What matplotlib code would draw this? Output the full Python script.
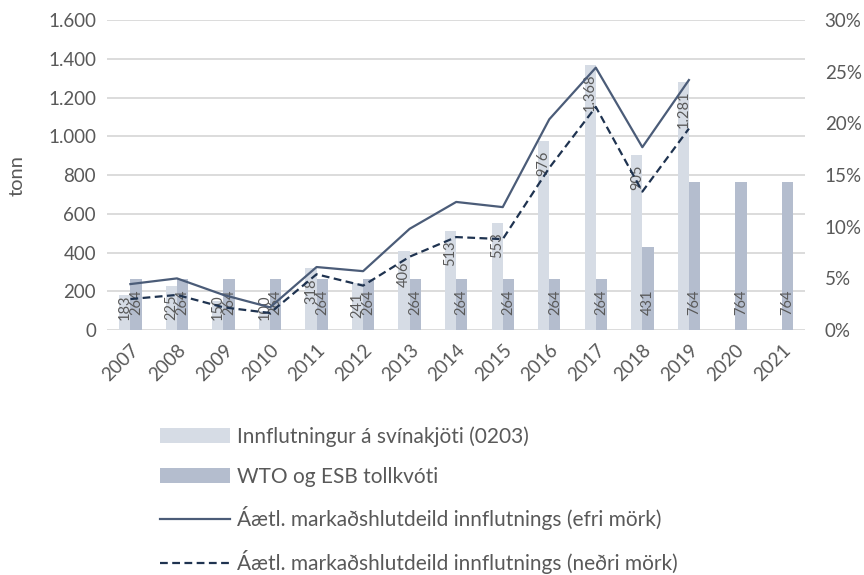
import numpy as np
import matplotlib
matplotlib.use("Agg")
import matplotlib.pyplot as plt
from matplotlib.ticker import FuncFormatter

plt.rcParams['font.family'] = ['Lato', 'DejaVu Sans']

# data
years = ['2007', '2008', '2009', '2010', '2011', '2012', '2013', '2014',
         '2015', '2016', '2017', '2018', '2019', '2020', '2021']
innflutningur = [183, 225, 150, 100, 318, 241, 406, 513, 553, 976, 1368, 905, 1281, np.nan, np.nan]
tollkvoti = [264, 264, 264, 264, 264, 264, 264, 264, 264, 264, 264, 431, 764, 764, 764]
efri = [4.45, 5.0, 3.4, 2.2, 6.1, 5.7, 9.8, 12.4, 11.9, 20.4, 25.4, 17.7, 24.2, np.nan, np.nan]
nedri = [3.0, 3.4, 2.2, 1.65, 5.4, 4.3, 7.1, 9.0, 8.8, 15.7, 21.6, 13.4, 19.5, np.nan, np.nan]

c_imp = '#D6DCE5'
c_kvo = '#B4BDCE'
c_efri = '#4B5C78'
c_nedri = '#1F3350'
txt = '#595959'

fig = plt.figure(figsize=(8.64, 5.75), dpi=100)
ax = fig.add_axes([0.124, 0.426, 0.808, 0.539])
ax2 = ax.twinx()

x = np.arange(len(years))
w = 0.24
ax.bar(x - w/2, innflutningur, w, color=c_imp, label='Innflutningur á svínakjöti (0203)', zorder=2)
ax.bar(x + w/2, tollkvoti, w, color=c_kvo, label='WTO og ESB tollkvóti', zorder=2)

ax.set_ylim(0, 1600)
ax.set_xlim(-0.5, len(years) - 0.5)
ax.set_yticks(range(0, 1601, 200))
ax.yaxis.set_major_formatter(FuncFormatter(lambda v, p: f'{int(v):,}'.replace(',', '.')))
ax.grid(axis='y', color='#D9D9D9', lw=1.3, zorder=0)
ax.set_axisbelow(True)
for s in ax.spines.values():
    s.set_visible(False)
for s in ax2.spines.values():
    s.set_visible(False)
ax.tick_params(axis='both', length=0, labelsize=13.5, colors=txt, pad=8)
ax.set_xticks(x)
ax.set_xticklabels(years, rotation=45, ha='right', rotation_mode='anchor')
ax.set_ylabel('tonn', fontsize=14.5, color=txt, labelpad=16)

# data labels
def fmt(v):
    return f'{int(v):,}'.replace(',', '.')

for xi, v in zip(x, innflutningur):
    if np.isnan(v):
        continue
    s = fmt(v)
    ln = 27 * len(s)
    top = v - 75
    ctr = max(top - ln / 2, 77 + ln / 2)
    ax.text(xi - w/2, ctr, s, rotation=90, ha='center', va='center',
            fontsize=10.5, color=txt, zorder=5)
for xi, v in zip(x, tollkvoti):
    s = fmt(v)
    ax.text(xi + w/2, 77, s, rotation=90, ha='center', va='bottom',
            fontsize=10.5, color=txt, zorder=5)

ax2.plot(x, efri, color=c_efri, lw=1.6, label='Áætl. markaðshlutdeild innflutnings (efri mörk)', zorder=4)
ax2.plot(x, nedri, color=c_nedri, lw=1.6, ls=(0, (3.5, 2)), label='Áætl. markaðshlutdeild innflutnings (neðri mörk)', zorder=4)
ax2.set_ylim(0, 30)
ax2.set_yticks(range(0, 31, 5))
ax2.yaxis.set_major_formatter(FuncFormatter(lambda v, p: f'{int(v)}%'))
ax2.tick_params(axis='y', length=0, labelsize=13.5, colors=txt, pad=14)

h1, l1 = ax.get_legend_handles_labels()
h2, l2 = ax2.get_legend_handles_labels()
fig.legend(h1 + h2, l1 + l2, loc='center left', bbox_to_anchor=(0.173, 0.13),
           frameon=False, fontsize=15, labelcolor=txt, handlelength=3.35,
           handleheight=0.7, labelspacing=0.95, handletextpad=0.35, borderpad=0)

fig.savefig('out.png', dpi=100)
